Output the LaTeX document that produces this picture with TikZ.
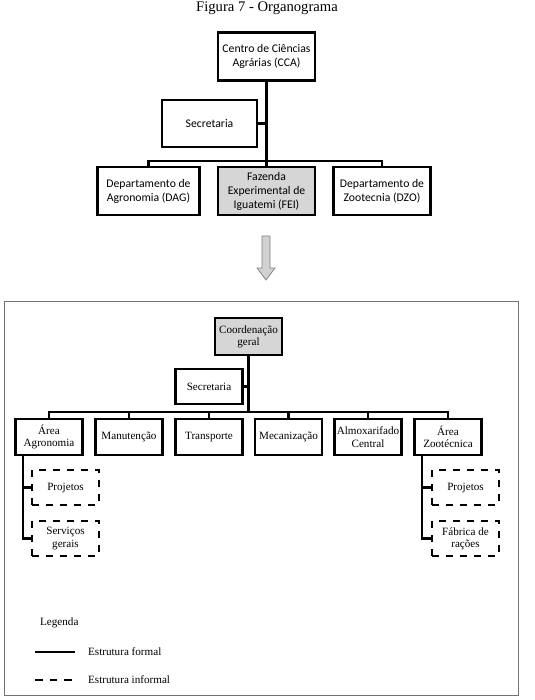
\documentclass[tikz,border=0pt]{standalone}
\usepackage{fontspec}
\setmainfont{Liberation Serif}
\newfontfamily\calibri{Carlito}
\usetikzlibrary{positioning,calc}
\tikzset{
topbox/.style={rectangle,draw=black,line width=2.1pt,fill=white,
  minimum width=2.9cm,minimum height=1.44cm,align=center,inner sep=1pt,
  font=\calibri\fontsize{10}{12}\selectfont},
orgbox/.style={rectangle,draw=black,line width=2pt,fill=white,
  minimum width=2cm,minimum height=1.08cm,align=center,inner sep=1pt,
  font=\fontsize{9.5}{10.5}\selectfont},
infbox/.style={orgbox,dash pattern=on 6pt off 6pt},
conn/.style={line width=2pt},
infline/.style={line width=2pt,dash pattern=on 6.5pt off 6pt}
}
\begin{document}
\begin{tikzpicture}[x=0.03cm,y=-0.03cm]
\useasboundingbox (0,0) rectangle (535,700);
\node[font=\fontsize{12.5}{14}\selectfont] (title) at (267,8) {Figura 7 - Organograma};
% estrutura antiga
\node[topbox] (cca) at (266.5,56.5) {Centro de Ciências\\Agrárias (CCA)};
\node[topbox,minimum width=2.85cm,minimum height=1.41cm] (secA) at (209.5,123.5) {Secretaria};
\node[topbox,minimum width=3.05cm] (dag) at (148.5,191) {Departamento de\\Agronomia (DAG)};
\node[topbox,fill=black!16] (fei) at (266.5,191) {Fazenda\\Experimental de\\Iguatemi (FEI)};
\node[topbox] (dzo) at (382,191) {Departamento de\\Zootecnia (DZO)};
\coordinate (busA) at (266.5,161);
\draw[conn] (cca) -- (busA);
\draw[conn] (secA.east) -- (secA.east -| busA);
\draw[conn] (dag.north) |- (busA) -| (dzo.north);
\draw[conn] (busA) -- (fei.north);
% seta
\draw[draw=black!50,fill=black!18,line width=0.6pt] (262,236) -- (270,236) -- (270,268) -- (275,268)
  -- (266,280) -- (257,268) -- (262,268) -- cycle;
% nova estrutura
\draw[draw=black!55,line width=0.8pt] (4,301) rectangle (518,695);
\node[orgbox,fill=black!16,minimum height=1.11cm] (coord) at (248.5,336.5) {Coordenação\\geral};
\node[orgbox,minimum height=1.05cm] (secB) at (209,386.5) {Secretaria};
\node[orgbox] (agro) at (49,437) {Área\\Agronomia};
\node[orgbox] (manut) at (129,437) {Manutenção};
\node[orgbox] (transp) at (209,437) {Transporte};
\node[orgbox] (mecan) at (288.5,437) {Mecanização};
\node[orgbox] (almox) at (368,437) {Almoxarifado\\Central};
\node[orgbox] (zoot) at (448,437) {Área\\Zootécnica};
\coordinate (busB) at (248.5,412);
\draw[conn] (coord) -- (busB);
\draw[conn] (secB.east) -- (secB.east -| busB);
\draw[conn] (agro.north) |- (busB) -| (zoot.north);
\foreach \n in {manut,transp,mecan,almox}
  \draw[conn] (\n.north) -- (\n.north |- busB);
% informal
\node[infbox,minimum height=1.05cm] (projA) at (65.5,487.5) {Projetos};
\node[infbox,minimum height=1.05cm] (servA) at (65.5,538.5) {Serviços\\gerais};
\node[infbox,minimum height=1.05cm] (projZ) at (465.5,487.5) {Projetos};
\node[infbox,minimum height=1.05cm] (fabZ) at (465.5,538.5) {Fábrica de\\rações};
\coordinate (agroL) at (23,455);
\coordinate (zootL) at (422,455);
\draw[conn] (agroL) |- (servA.west);
\draw[conn] (agroL |- projA.west) -- (projA.west);
\draw[conn] (zootL) |- (fabZ.west);
\draw[conn] (zootL |- projZ.west) -- (projZ.west);
% legenda
\node[anchor=west,font=\fontsize{9.5}{11}\selectfont] (leg) at (36,623) {Legenda};
\node[anchor=west,font=\fontsize{9.5}{11}\selectfont] (lgF) at (84,652) {Estrutura formal};
\node[anchor=west,font=\fontsize{9.5}{11}\selectfont] (lgI) at (84,680) {Estrutura informal};
\coordinate (lgFa) at (35,652);
\coordinate (lgIa) at (35,680);
\draw[conn] (lgFa) -- ++(40,0);
\draw[infline] (lgIa) -- ++(40,0);
\end{tikzpicture}
\end{document}
